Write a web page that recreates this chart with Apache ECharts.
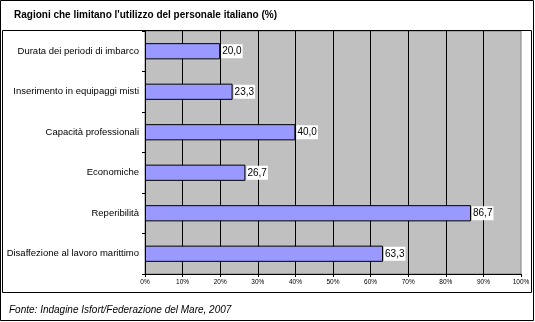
<!DOCTYPE html>
<html>
<head>
<meta charset="utf-8">
<script src="https://cdn.jsdelivr.net/npm/echarts@6/dist/echarts.min.js"></script>
<style>html,body{margin:0;padding:0;background:#fff}#c{width:535px;height:322px}</style>
</head>
<body>
<div id="c"></div>
<script>
var titleText = "Ragioni che limitano l'utilizzo del personale italiano (%)";
var sourceText = "Fonte: Indagine Isfort/Federazione del Mare, 2007";
var categories = ["Durata dei periodi di imbarco", "Inserimento in equipaggi misti", "Capacità professionali", "Economiche", "Reperibilità", "Disaffezione al lavoro marittimo"];
var values = [20.0, 23.3, 40.0, 26.7, 86.7, 63.3];
var xTicks = [0, 10, 20, 30, 40, 50, 60, 70, 80, 90, 100];

var FONT = "'Liberation Sans', Arial, sans-serif";
var chart = echarts.init(document.getElementById('c'), null, {renderer: 'canvas'});
chart.setOption({
  animation: false,
  backgroundColor: '#fff',
  title: [
    {text: titleText, left: 9, top: 5, textStyle: {fontFamily: FONT, fontSize: 10, fontWeight: 'bold', color: '#000'}},
    {text: sourceText, left: 4, top: 300, textStyle: {fontFamily: FONT, fontSize: 10, fontStyle: 'italic', fontWeight: 'normal', color: '#000'}}
  ],
  graphic: [
    {type: 'rect', shape: {x: 0.5, y: 0.5, width: 533, height: 320}, style: {fill: 'none', stroke: '#000', lineWidth: 1}, z: 100},
    {type: 'rect', shape: {x: 2.5, y: 30.5, width: 529, height: 262}, style: {fill: 'none', stroke: '#000', lineWidth: 1}, z: 100}
  ],
  grid: {left: 145, right: 14, top: 31, bottom: 48, show: true, backgroundColor: '#C0C0C0', borderColor: '#808080', borderWidth: 1},
  xAxis: {
    type: 'value', min: xTicks[0], max: xTicks[xTicks.length - 1], interval: 10,
    axisLine: {show: true, lineStyle: {color: '#000', width: 1}},
    axisTick: {show: true, length: 3, lineStyle: {color: '#000'}},
    axisLabel: {formatter: '{value}%', fontFamily: FONT, fontSize: 6.5, color: '#000', margin: 5},
    splitLine: {show: true, showMinLine: false, showMaxLine: false, lineStyle: {color: '#000', width: 1}}
  },
  yAxis: {
    type: 'category', inverse: true, data: categories,
    axisLine: {show: true, lineStyle: {color: '#000', width: 1}},
    axisTick: {show: true, length: 3, lineStyle: {color: '#000'}},
    axisLabel: {fontFamily: FONT, fontSize: 9.5, color: '#000', margin: 6},
    splitLine: {show: false}
  },
  series: [{
    type: 'bar', data: values, barWidth: '40%',
    itemStyle: {color: '#9999FF', borderColor: '#000', borderWidth: 1},
    label: {
      show: true, position: 'right', distance: 1,
      formatter: function (p) { return p.value.toFixed(1).replace('.', ','); },
      backgroundColor: '#fff', color: '#000', fontFamily: FONT, fontSize: 10, padding: [2, 1, 2, 1]
    }
  }]
});
</script>
</body>
</html>
